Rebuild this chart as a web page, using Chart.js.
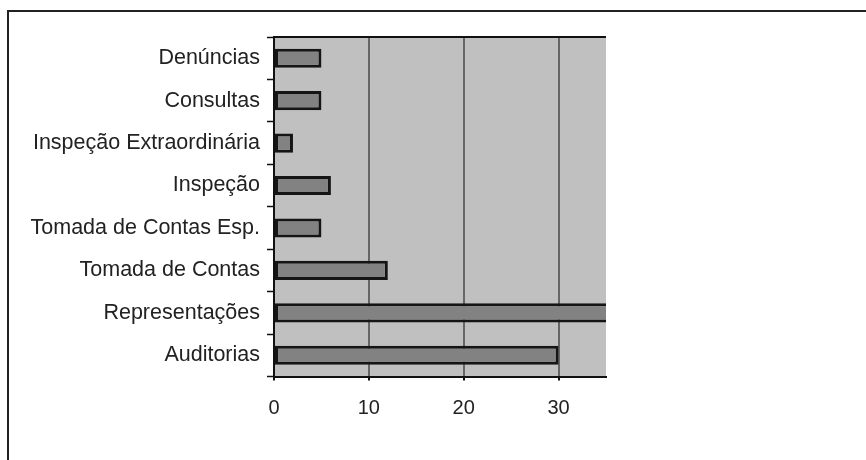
<!DOCTYPE html>
<html>
<head>
<meta charset="utf-8">
<script src="https://cdn.jsdelivr.net/npm/chart.js@4"></script>
<style>
  html, body { margin: 0; padding: 0; background: #fff; }
  #wrap { width: 866px; height: 460px; }
</style>
</head>
<body>
<div id="wrap"><canvas id="chart" width="866" height="460"></canvas></div>
<script>
const categories = ['Denúncias', 'Consultas', 'Inspeção Extraordinária', 'Inspeção',
    'Tomada de Contas Esp.', 'Tomada de Contas', 'Representações', 'Auditorias'];
const values = [5, 5, 2, 6, 5, 12, 38, 30];
const xTicks = [0, 10, 20, 30];
const xMax = 35;

// grey plot area, top edge line and the outer frame
const framePlugin = {
    id: 'frame',
    beforeDraw(chart) {
        const { ctx, chartArea: a } = chart;
        ctx.save();
        ctx.fillStyle = '#c0c0c0';
        ctx.fillRect(a.left, a.top, a.right - a.left, a.bottom - a.top);
        ctx.restore();
    },
    afterDraw(chart) {
        const { ctx, chartArea: a } = chart;
        ctx.save();
        ctx.strokeStyle = '#111';
        ctx.lineWidth = 2;
        ctx.beginPath();
        ctx.moveTo(a.left, a.top);
        ctx.lineTo(a.right, a.top);
        ctx.stroke();
        ctx.strokeStyle = '#222';
        ctx.beginPath();
        ctx.moveTo(8, 470);
        ctx.lineTo(8, 11);
        ctx.lineTo(880, 11);
        ctx.stroke();
        ctx.restore();
    }
};

const ctx = document.getElementById('chart').getContext('2d');
new Chart(ctx, {
    type: 'bar',
    data: {
        labels: categories,
        datasets: [{
            data: values,
            backgroundColor: '#828282',
            borderColor: '#151515',
            borderWidth: 3,
            borderSkipped: false,
            barPercentage: 0.45,
            categoryPercentage: 1,
            clip: 0
        }]
    },
    plugins: [framePlugin],
    options: {
        indexAxis: 'y',
        responsive: false,
        animation: false,
        events: [],
        layout: { padding: { left: 0, top: 37, right: 260, bottom: 0 } },
        plugins: { legend: { display: false }, tooltip: { enabled: false } },
        scales: {
            x: {
                min: 0,
                max: xMax,
                afterBuildTicks: axis => { axis.ticks = xTicks.map(v => ({ value: v })); },
                afterFit: axis => { axis.height = 83.5; },
                grid: { color: '#666', lineWidth: 2, tickLength: 4, tickColor: '#111' },
                border: { color: '#111', width: 2 },
                ticks: {
                    color: '#222',
                    padding: 16,
                    maxRotation: 0,
                    font: { family: '"Liberation Sans", Arial, sans-serif', size: 20 }
                }
            },
            y: {
                afterFit: axis => { axis.width = 274; },
                grid: { drawOnChartArea: false, offset: true, tickLength: 7, tickColor: '#111', tickWidth: 1.5 },
                border: { color: '#111', width: 2 },
                ticks: {
                    color: '#222',
                    padding: 7,
                    font: { family: '"Liberation Sans", Arial, sans-serif', size: 21.5 }
                }
            }
        }
    }
});
</script>
</body>
</html>
